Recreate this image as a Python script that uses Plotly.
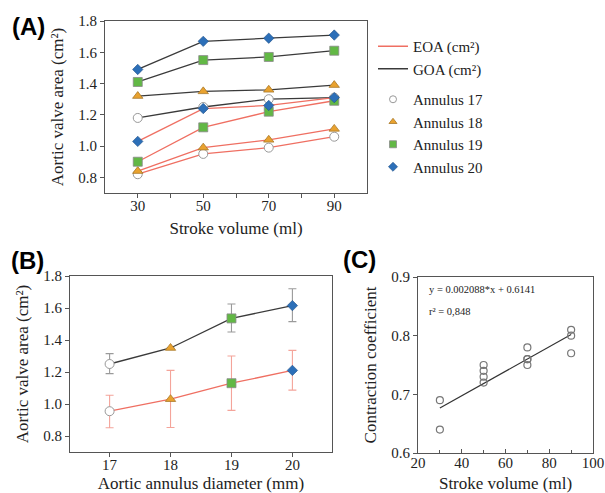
import plotly.graph_objects as go

# ---------------- Data ----------------
stroke_volume = [30, 50, 70, 90]
annuli = ["Annulus 17", "Annulus 18", "Annulus 19", "Annulus 20"]

# Panel A: GOA and EOA per annulus vs stroke volume
goa_17 = [1.18, 1.25, 1.30, 1.31]
goa_18 = [1.32, 1.35, 1.36, 1.39]
goa_19 = [1.41, 1.55, 1.57, 1.61]
goa_20 = [1.49, 1.67, 1.69, 1.71]
eoa_17 = [0.82, 0.95, 0.99, 1.06]
eoa_18 = [0.84, 0.99, 1.04, 1.11]
eoa_19 = [0.90, 1.12, 1.22, 1.29]
eoa_20 = [1.03, 1.24, 1.26, 1.31]

# Panel B: mean +/- range vs annulus diameter
diameter = [17, 18, 19, 20]
goa_mean = [1.25, 1.35, 1.535, 1.615]
goa_upper = [1.315, 1.35, 1.625, 1.72]
goa_lower = [1.19, 1.35, 1.45, 1.515]
eoa_mean = [0.955, 1.03, 1.13, 1.21]
eoa_upper = [1.055, 1.21, 1.30, 1.335]
eoa_lower = [0.852, 0.853, 0.96, 1.087]

# Panel C: contraction coefficient vs stroke volume
cc_x = [30, 30, 50, 50, 50, 50, 70, 70, 70, 70, 90, 90, 90]
cc_y = [0.69, 0.64, 0.75, 0.74, 0.73, 0.72, 0.78, 0.76, 0.76, 0.75, 0.81, 0.80, 0.77]
fit_slope = 0.002088
fit_intercept = 0.6141
fit_x = [30, 90]
fit_text = "y = 0.002088*x + 0.6141"
r2_text = "r² = 0,848"

# ---------------- Styles ----------------
SERIF = "Liberation Serif, Times New Roman, serif"
SANS = "Liberation Sans, Arial, sans-serif"
RED = "#EF6F62"
BLACK = "#3a3a3a"
marker_styles = {
    "Annulus 17": dict(symbol="circle", color="white", line=dict(color="#999999", width=1), size=9),
    "Annulus 18": dict(symbol="triangle-up", color="#E9A22F", line=dict(color="#a8782a", width=0.8), size=9),
    "Annulus 19": dict(symbol="square", color="#62B845", line=dict(color="#8a8a8a", width=0.8), size=9),
    "Annulus 20": dict(symbol="diamond", color="#2C6FB8", line=dict(color="#1f4f86", width=0.6), size=8),
}

fig = go.Figure()

goa_all = [goa_17, goa_18, goa_19, goa_20]
eoa_all = [eoa_17, eoa_18, eoa_19, eoa_20]

# Panel A: GOA first, then EOA on top
for name, ys in zip(annuli, goa_all):
    fig.add_trace(go.Scatter(x=stroke_volume, y=ys, mode="lines+markers",
                             line=dict(color=BLACK, width=1.3),
                             marker=marker_styles[name], showlegend=False,
                             xaxis="x", yaxis="y"))
for name, ys in zip(annuli, eoa_all):
    fig.add_trace(go.Scatter(x=stroke_volume, y=ys, mode="lines+markers",
                             line=dict(color=RED, width=1.3),
                             marker=marker_styles[name], showlegend=False,
                             xaxis="x", yaxis="y"))

# Legend-only traces
fig.add_trace(go.Scatter(x=[None], y=[None], mode="lines", name="EOA (cm²)",
                         line=dict(color=RED, width=1.5), legendgroup="a", xaxis="x", yaxis="y"))
fig.add_trace(go.Scatter(x=[None], y=[None], mode="lines", name="GOA (cm²)",
                         line=dict(color=BLACK, width=1.5), legendgroup="a", xaxis="x", yaxis="y"))
for name in annuli:
    m = dict(marker_styles[name])
    m["size"] = 7
    fig.add_trace(go.Scatter(x=[None], y=[None], mode="markers", name=name,
                             marker=m, legendgroup="b", xaxis="x", yaxis="y"))

# Panel B
def add_b(mean, upper, lower, line_color, err_color):
    plus = [u - m for u, m in zip(upper, mean)]
    minus = [m - l for m, l in zip(mean, lower)]
    fig.add_trace(go.Scatter(x=diameter, y=mean, mode="lines",
                             line=dict(color=line_color, width=1.3),
                             error_y=dict(type="data", array=plus, arrayminus=minus,
                                          color=err_color, thickness=1.1, width=4),
                             showlegend=False, xaxis="x2", yaxis="y2"))
    for i, name in enumerate(annuli):
        fig.add_trace(go.Scatter(x=[diameter[i]], y=[mean[i]], mode="markers",
                                 marker=marker_styles[name], showlegend=False,
                                 xaxis="x2", yaxis="y2"))

add_b(goa_mean, goa_upper, goa_lower, BLACK, "#9a9a9a")
add_b(eoa_mean, eoa_upper, eoa_lower, RED, "#F4A49A")

# Panel C
fig.add_trace(go.Scatter(x=fit_x, y=[fit_slope * x + fit_intercept for x in fit_x], mode="lines",
                         line=dict(color="#333333", width=1.2), showlegend=False,
                         xaxis="x3", yaxis="y3"))
fig.add_trace(go.Scatter(x=cc_x, y=cc_y, mode="markers",
                         marker=dict(symbol="circle-open", size=7, color="#777777", line=dict(width=1.2)),
                         showlegend=False, xaxis="x3", yaxis="y3"))

tickfont = dict(family=SERIF, size=15, color="#222222")
titlefont = dict(family=SERIF, size=17, color="#222222")
axis_common = dict(showline=True, linecolor="#555555", linewidth=1, mirror=True,
                   ticklen=4, tickcolor="#555555", showgrid=False,
                   zeroline=False, tickfont=tickfont, automargin=False)

fig.update_layout(
    width=605, height=493,
    margin=dict(l=0, r=0, t=0, b=0, autoexpand=False),
    paper_bgcolor="white", plot_bgcolor="white",
    xaxis=dict(domain=[105 / 605, 367 / 605], range=[20, 100], tickvals=[30, 40, 50, 60, 70, 80, 90],
               ticktext=["30", "", "50", "", "70", "", "90"], ticks="outside", ticklabelstandoff=-5,
               title=dict(text="Stroke volume (ml)", font=titlefont, standoff=9), anchor="y", **axis_common),
    yaxis=dict(domain=[1 - 193 / 493, 1 - 21 / 493], range=[0.7, 1.8], tickvals=[0.8, 1.0, 1.2, 1.4, 1.6, 1.8],
               ticktext=["0.8", "1.0", "1.2", "1.4", "1.6", "1.8"], ticks="outside",
               title=dict(text="Aortic valve area (cm²)", font=titlefont, standoff=10), anchor="x", **axis_common),
    xaxis2=dict(domain=[70 / 605, 332 / 605], range=[16.35, 20.65], tickvals=diameter, ticks="outside",
                ticklabelstandoff=-5,
                title=dict(text="Aortic annulus diameter (mm)", font=titlefont, standoff=8), anchor="y2", **axis_common),
    yaxis2=dict(domain=[1 - 452 / 493, 1 - 276 / 493], range=[0.7, 1.8], tickvals=[0.8, 1.0, 1.2, 1.4, 1.6, 1.8],
                ticktext=["0.8", "1.0", "1.2", "1.4", "1.6", "1.8"], ticks="outside",
                title=dict(text="Aortic valve area (cm²)", font=titlefont, standoff=10), anchor="x2", **axis_common),
    xaxis3=dict(domain=[418 / 605, 593 / 605], range=[20, 100], tickvals=[20, 40, 60, 80, 100], ticks="inside",
                ticklabelstandoff=-4,
                minor=dict(ticks="inside", dtick=10, ticklen=3, tickcolor="#555555"),
                title=dict(text="Stroke volume (ml)", font=titlefont, standoff=8), anchor="y3", **axis_common),
    yaxis3=dict(domain=[1 - 453 / 493, 1 - 277 / 493], range=[0.6, 0.9], tickvals=[0.6, 0.7, 0.8, 0.9], ticks="outside",
                title=dict(text="Contraction coefficient", font=titlefont, standoff=10), anchor="x3", **axis_common),
    legend=dict(x=373 / 605, y=1 - 30 / 493, xanchor="left", yanchor="top",
                font=dict(family=SERIF, size=15, color="#222222"),
                tracegroupgap=8, itemwidth=30, bgcolor="rgba(0,0,0,0)", traceorder="grouped"),
    annotations=[
        dict(text="<b>(A)</b>", x=10 / 605, y=1 - 11 / 493, xref="paper", yref="paper", xanchor="left", yanchor="top",
             showarrow=False, font=dict(family=SANS, size=24, color="black")),
        dict(text="<b>(B)</b>", x=9 / 605, y=1 - 245 / 493, xref="paper", yref="paper", xanchor="left", yanchor="top",
             showarrow=False, font=dict(family=SANS, size=24, color="black")),
        dict(text="<b>(C)</b>", x=341 / 605, y=1 - 244 / 493, xref="paper", yref="paper", xanchor="left", yanchor="top",
             showarrow=False, font=dict(family=SANS, size=24, color="black")),
        dict(text=fit_text, x=24, y=0.878, xref="x3", yref="y3", xanchor="left", yanchor="middle",
             showarrow=False, font=dict(family=SERIF, size=10.5, color="#222222")),
        dict(text=r2_text, x=24, y=0.842, xref="x3", yref="y3", xanchor="left", yanchor="middle",
             showarrow=False, font=dict(family=SERIF, size=10.5, color="#222222")),
    ],
)

fig.write_html("out.html", config={"displayModeBar": False},
               post_script="document.body.style.margin='0';document.body.style.overflow='hidden';")
